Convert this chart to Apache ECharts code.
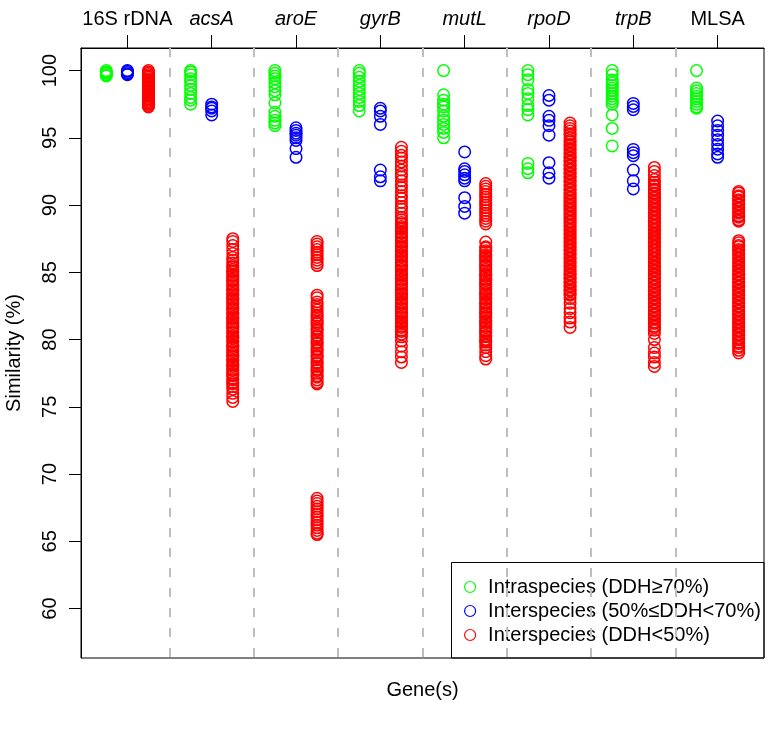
<!DOCTYPE html>
<html><head><meta charset="utf-8">
<script src="https://cdn.jsdelivr.net/npm/echarts@6/dist/echarts.min.js"></script>
<style>html,body{margin:0;padding:0;background:#fff}#c{width:770px;height:733px}</style>
</head><body><div id="c"></div>
<script>
// ---------------- DATA ----------------
const genes = ['16S rDNA', 'acsA', 'aroE', 'gyrB', 'mutL', 'rpoD', 'trpB', 'MLSA'];
const yTicks = [60, 65, 70, 75, 80, 85, 90, 95, 100];
const seriesNames = ['Intraspecies (DDH\u226570%)', 'Interspecies (50%\u2264DDH<70%)', 'Interspecies (DDH<50%)'];

// Intraspecies (DDH>=70%), one list per gene
const intraspecies = [
  [100, 99.9, 99.8, 99.7, 99.6],
  [100, 99.9, 99.7, 99.4, 99.2, 98.9, 98.6, 98.3, 98.0, 97.8, 97.5],
  [100, 99.8, 99.6, 99.4, 99.1, 98.8, 98.5, 98.2, 97.6, 96.9, 96.6, 96.3, 96.1, 95.9],
  [100, 99.8, 99.5, 99.2, 98.9, 98.6, 98.3, 98.0, 97.7, 97.4, 97.0],
  [100, 98.2, 97.8, 97.5, 97.3, 97.0, 96.6, 96.3, 96.0, 95.7, 95.4, 95.0],
  [100, 99.7, 99.3, 98.6, 98.3, 97.9, 97.4, 97.1, 96.7, 93.1, 92.7, 92.4],
  [100, 99.7, 99.3, 99.1, 98.9, 98.7, 98.5, 98.3, 98.1, 97.9, 97.7, 97.5, 96.7, 95.7, 94.4],
  [100, 98.7, 98.5, 98.3, 98.1, 97.9, 97.7, 97.5, 97.3, 97.2]
];

// Interspecies (50%<=DDH<70%)
const interspeciesMid = [
  [100, 99.95, 99.85, 99.75, 99.7],
  [97.5, 97.3, 97.2, 97.0, 96.7],
  [95.75, 95.55, 95.35, 95.2, 95.0, 94.8, 94.2, 93.55],
  [97.2, 97.0, 96.6, 96.0, 92.6, 92.1, 91.8],
  [93.95, 92.7, 92.5, 92.25, 92.0, 91.8, 90.55, 89.9, 89.4],
  [98.15, 97.8, 96.6, 96.3, 95.9, 95.2, 93.15, 92.4, 92.0],
  [97.56, 97.33, 97.09, 94.14, 93.9, 93.67, 92.6, 91.8, 91.2],
  [96.25, 95.9, 95.55, 95.2, 94.85, 94.5, 94.15, 93.8, 93.55]
];

// Interspecies (DDH<50%)
const interspeciesLow = [
  [100, 99.9, 99.8, 99.7, 99.6, 99.5, 99.4, 99.3, 99.2, 99.1, 99.0, 98.9, 98.8, 98.7, 98.6, 98.5, 98.4, 98.3, 98.2, 98.1, 98.0, 97.9, 97.8, 97.7, 97.6, 97.5, 97.4, 97.3],
  [87.5, 87.3, 87.0, 86.7, 86.4, 86.1, 85.9, 85.7, 85.5, 85.4, 85.2, 85.1, 85.0, 84.8, 84.7, 84.5, 84.4, 84.3, 84.1, 84.0, 83.8, 83.7, 83.6, 83.4, 83.3, 83.1, 83.0, 82.9, 82.7, 82.6, 82.4, 82.3, 82.2, 82.0, 81.9, 81.7, 81.6, 81.5, 81.3, 81.2, 81.0, 80.9, 80.8, 80.6, 80.5, 80.3, 80.2, 80.1, 79.9, 79.8, 79.6, 79.5, 79.4, 79.2, 79.1, 78.9, 78.8, 78.7, 78.5, 78.4, 78.2, 78.1, 78.0, 77.8, 77.7, 77.5, 77.4, 77.3, 77.1, 77.0, 76.8, 76.7, 76.5, 76.3, 76.0, 75.7, 75.4],
  [87.3, 87.1, 86.9, 86.7, 86.5, 86.3, 86.1, 85.9, 85.7, 85.5,
   83.3, 83.1, 82.8, 82.6, 82.4, 82.2, 82.0, 81.8, 81.7, 81.5, 81.3, 81.2, 81.0, 80.8, 80.7, 80.5, 80.3, 80.2, 80.0, 79.8, 79.7, 79.5, 79.3, 79.2, 79.0, 78.8, 78.7, 78.5, 78.3, 78.2, 78.0, 77.8, 77.7, 77.5, 77.3, 77.2, 77.0, 76.8, 76.7,
   68.2, 68.0, 67.8, 67.6, 67.4, 67.2, 67.0, 66.8, 66.6, 66.4, 66.2, 66.0, 65.8, 65.6, 65.5],
  [94.3, 94.0, 93.7, 93.5, 93.2, 92.9, 92.6, 92.3, 92.1, 91.8, 91.5, 91.3, 91.0, 90.7, 90.5, 90.2, 89.9, 89.7, 89.4, 89.1, 88.9, 88.7, 88.6, 88.4, 88.3, 88.2, 88.0, 87.9, 87.7, 87.6, 87.5, 87.3, 87.2, 87.0, 86.9, 86.8, 86.6, 86.5, 86.3, 86.2, 86.1, 85.9, 85.8, 85.6, 85.5, 85.4, 85.2, 85.1, 84.9, 84.8, 84.7, 84.5, 84.4, 84.2, 84.1, 84.0, 83.8, 83.7, 83.5, 83.4, 83.3, 83.1, 83.0, 82.8, 82.7, 82.6, 82.4, 82.3, 82.1, 82.0, 81.9, 81.7, 81.6, 81.4, 81.3, 81.2, 81.0, 80.9, 80.7, 80.6, 80.4, 80.2, 79.9, 79.5, 79.1, 78.7, 78.3],
  [91.6, 91.4, 91.2, 91.0, 90.8, 90.6, 90.4, 90.2, 90.0, 89.8, 89.6, 89.4, 89.2, 89.0, 88.8, 88.6, 87.25, 86.9, 86.8, 86.6, 86.5, 86.3, 86.2, 86.1, 85.9, 85.8, 85.6, 85.5, 85.4, 85.2, 85.1, 84.9, 84.8, 84.7, 84.5, 84.4, 84.2, 84.1, 84.0, 83.8, 83.7, 83.5, 83.4, 83.3, 83.1, 83.0, 82.8, 82.7, 82.6, 82.4, 82.3, 82.1, 82.0, 81.9, 81.7, 81.6, 81.4, 81.3, 81.2, 81.0, 80.9, 80.7, 80.6, 80.5, 80.3, 80.2, 80.0, 79.9, 79.8, 79.6, 79.4, 79.1, 78.8, 78.55],
  [96.1, 95.9, 95.7, 95.5, 95.3, 95.2, 95.0, 94.8, 94.7, 94.5, 94.4, 94.2, 94.1, 93.9, 93.8, 93.6, 93.5, 93.3, 93.2, 93.0, 92.9, 92.7, 92.6, 92.4, 92.3, 92.1, 92.0, 91.8, 91.7, 91.5, 91.4, 91.2, 91.1, 90.9, 90.8, 90.6, 90.5, 90.3, 90.2, 90.0, 89.9, 89.7, 89.6, 89.4, 89.3, 89.1, 89.0, 88.8, 88.7, 88.5, 88.4, 88.2, 88.1, 87.9, 87.8, 87.6, 87.5, 87.3, 87.2, 87.0, 86.9, 86.7, 86.6, 86.4, 86.3, 86.1, 86.0, 85.8, 85.7, 85.5, 85.4, 85.2, 85.1, 84.9, 84.8, 84.6, 84.5, 84.3, 84.2, 84.0, 83.9, 83.7, 83.6, 83.4, 83.3, 83.05, 82.7, 82.3, 82.0, 81.6, 81.3, 80.9],
  [92.8, 92.5, 92.2, 91.9, 91.7, 91.5, 91.4, 91.2, 91.1, 90.9, 90.8, 90.6, 90.5, 90.3, 90.2, 90.0, 89.9, 89.7, 89.6, 89.4, 89.3, 89.1, 89.0, 88.8, 88.7, 88.5, 88.4, 88.2, 88.1, 87.9, 87.8, 87.6, 87.5, 87.3, 87.2, 87.0, 86.9, 86.7, 86.6, 86.4, 86.3, 86.1, 86.0, 85.8, 85.7, 85.5, 85.4, 85.2, 85.1, 84.9, 84.8, 84.6, 84.5, 84.3, 84.2, 84.0, 83.9, 83.7, 83.6, 83.4, 83.3, 83.1, 83.0, 82.8, 82.7, 82.5, 82.4, 82.2, 82.1, 81.9, 81.8, 81.6, 81.5, 81.3, 81.2, 81.0, 80.9, 80.7, 80.45, 80.0, 79.4, 79.0, 78.7, 78.3, 78.0],
  [91.0, 90.9, 90.7, 90.6, 90.4, 90.3, 90.1, 90.0, 89.8, 89.7, 89.5, 89.4, 89.2, 89.1, 88.9, 88.8, 87.35, 87.2, 87.0, 86.9, 86.7, 86.6, 86.4, 86.3, 86.1, 86.0, 85.8, 85.7, 85.5, 85.4, 85.2, 85.1, 84.9, 84.8, 84.6, 84.5, 84.3, 84.2, 84.0, 83.9, 83.7, 83.6, 83.4, 83.3, 83.1, 83.0, 82.8, 82.7, 82.5, 82.4, 82.2, 82.1, 81.9, 81.8, 81.6, 81.5, 81.3, 81.2, 81.0, 80.9, 80.7, 80.6, 80.4, 80.3, 80.1, 80.0, 79.8, 79.7, 79.5, 79.4, 79.2, 79.0]
];

// ---------------- CHART ----------------
const FONT = "'Liberation Sans', Arial, Helvetica, sans-serif";
const FS = 20;
const romanNames = new Set(['16S rDNA', 'MLSA']);
const colors = ['#00FF00', '#0000FF', '#FF0000'];
const offsets = [-0.25, 0, 0.25];
const groupsByClass = [intraspecies, interspeciesMid, interspeciesLow];
const xMin = 0.45, xMax = 8.55, yMin = 56.32, yMax = 101.68;
const tickPos = genes.map((g, i) => i + 1);
const separators = genes.slice(1).map((g, i) => i + 1.5);

function toPoints(groups, off) {
  const out = [];
  groups.forEach((vals, i) => vals.forEach(v => out.push([i + 1 + off, v])));
  return out;
}

const chart = echarts.init(document.getElementById('c'), null, { renderer: 'canvas' });

const series = groupsByClass.map((groups, k) => ({
  name: seriesNames[k],
  type: 'scatter',
  xAxisIndex: 0,
  yAxisIndex: 0,
  symbol: 'circle',
  symbolSize: 11.5,
  silent: true,
  z: 3,
  itemStyle: { color: 'transparent', borderColor: colors[k], borderWidth: 1.5, opacity: 1 },
  data: toPoints(groups, offsets[k])
}));

series.push({
  name: 'separators',
  type: 'scatter',
  data: [],
  silent: true,
  z: 2,
  markLine: {
    silent: true,
    symbol: ['none', 'none'],
    label: { show: false },
    lineStyle: { color: '#BEBEBE', type: [9, 11], width: 2 },
    data: separators.map(x => [{ coord: [x, yMax] }, { coord: [x, yMin] }])
  }
});

const option = {
  animation: false,
  backgroundColor: '#fff',
  textStyle: { fontFamily: FONT },
  grid: {
    left: 81, right: 6, top: 48, bottom: 75,
    containLabel: false, outerBoundsMode: 'none',
    show: true, borderColor: '#000', borderWidth: 1, backgroundColor: 'transparent'
  },
  legend: {
    orient: 'vertical',
    left: 464, top: 577,
    padding: 0,
    itemWidth: 26, itemHeight: 11, itemGap: 4,
    selectedMode: false,
    textStyle: { fontFamily: FONT, fontSize: FS, lineHeight: 20, color: '#000' },
    data: seriesNames.map((n, k) => ({
      name: n, icon: 'circle',
      itemStyle: { color: 'transparent', borderColor: colors[k], borderWidth: 1.2 }
    }))
  },
  xAxis: [
    {
      type: 'value', position: 'top', min: xMin, max: xMax,
      axisLine: { show: true, onZero: false, lineStyle: { color: '#000', width: 1 } },
      axisTick: { show: true, customValues: tickPos, length: 13, lineStyle: { color: '#000', width: 1 } },
      axisLabel: {
        customValues: tickPos, margin: 19,
        formatter: v => {
          const g = genes[Math.round(v) - 1];
          return romanNames.has(g) ? '{n|' + g + '}' : '{i|' + g + '}';
        },
        rich: {
          n: { fontFamily: FONT, fontSize: FS, lineHeight: 20, color: '#000' },
          i: { fontFamily: FONT, fontSize: FS, lineHeight: 20, color: '#000', fontStyle: 'italic' }
        }
      },
      splitLine: { show: false }
    },
    {
      type: 'value', position: 'bottom', min: xMin, max: xMax,
      name: 'Gene(s)', nameLocation: 'middle', nameGap: 22,
      nameTextStyle: { fontFamily: FONT, fontSize: FS, lineHeight: 20, color: '#000' },
      axisLine: { show: false }, axisTick: { show: false }, axisLabel: { show: false }, splitLine: { show: false }
    }
  ],
  yAxis: {
    type: 'value', min: yMin, max: yMax,
    name: 'Similarity (%)', nameLocation: 'middle', nameGap: 57, nameRotate: 90,
    nameTextStyle: { fontFamily: FONT, fontSize: FS, lineHeight: 20, color: '#000' },
    axisLine: { show: true, onZero: false, lineStyle: { color: '#000', width: 1 } },
    axisTick: { show: true, customValues: yTicks, length: 12, lineStyle: { color: '#000', width: 1 } },
    axisLabel: { customValues: yTicks, rotate: 90, margin: 21, fontFamily: FONT, fontSize: FS, lineHeight: 20, color: '#000' },
    splitLine: { show: false }
  },
  graphic: [{
    type: 'rect', silent: true, z: 10,
    shape: { x: 451.5, y: 562.5, width: 312.5, height: 95.5 },
    style: { fill: 'none', stroke: '#000', lineWidth: 1 }
  }],
  series: series
};

chart.setOption(option);
</script>
</body></html>
